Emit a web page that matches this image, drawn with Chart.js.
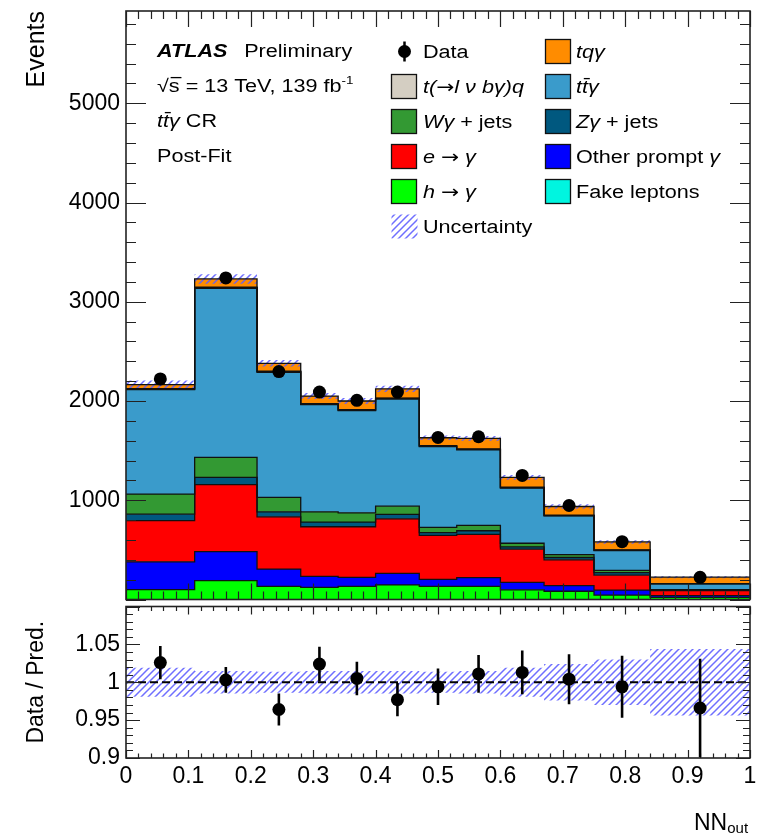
<!DOCTYPE html>
<html lang="en">
<head>
<meta charset="UTF-8">
<title>NN_out - ttγ CR post-fit</title>
<script src="https://cdn.jsdelivr.net/npm/chart.js"></script>
<style>
  body { margin: 0; background: #fff; width: 761px; height: 835px; overflow: hidden; position: relative; }
  .panel { position: absolute; left: 0; width: 761px; }
  #mainBox { top: 0; height: 606px; }
  #ratioBox { top: 600px; height: 235px; }
</style>
</head>
<body>
<div class="panel" id="mainBox"><canvas id="mainChart"></canvas></div>
<div class="panel" id="ratioBox"><canvas id="ratioChart"></canvas></div>
<script>
const FONT = '"Liberation Sans", Arial, Helvetica, sans-serif';
Chart.defaults.font.family = FONT;
Chart.defaults.color = '#000';

// NN_out bin edges (variable width)
const binEdges = [0, 0.11, 0.21, 0.28, 0.34, 0.40, 0.47, 0.53, 0.60, 0.67, 0.75, 0.84, 1.0];

// post-fit yields per bin, listed from the bottom of the stack upwards
const hToGamma    = [100, 190, 133, 123, 133, 147, 133, 133,  97,  83,  45, 22];
const otherPrompt = [280, 293, 174, 110,  90, 116,  70,  88,  76,  57,  50, 18];
const eToGamma    = [415, 674, 526, 500, 510, 550, 444, 436, 334, 260, 150, 50];
const zGammaJets  = [ 65,  73,  50,  47,  47,  44,  26,  36,  23,  23,  26,  5];
const wGammaJets  = [202, 203, 147, 103,  93,  83,  54,  54,  37,  30,  22,  5];
const ttGamma     = [1053, 1702, 1260, 1080, 1030, 1080, 813, 760, 556, 389, 200, 57];
const tLvbGammaQ  = [  6,   8,   6,   6,   6,   6,   5,   5,   5,   4,   4,  2];
const fakeLeptons = [  4,   4,   4,   4,   4,   4,   5,   5,   5,   4,   3,  1];
const tqGamma     = [ 40,  83,  80,  77,  87,  93,  80, 106,  97,  87,  80, 65];

const dataEvents  = [2223, 3240, 2297, 2090, 2007, 2090, 1633, 1640, 1250, 947, 583, 223];

// relative total uncertainty of the prediction
const relUncertainty = [0.019, 0.015, 0.014, 0.015, 0.015, 0.015, 0.014, 0.015, 0.019, 0.024, 0.030, 0.044];

// lower panel
const ratioValues = [1.026, 1.003, 0.964, 1.024, 1.005, 0.977, 0.994, 1.011, 1.013, 1.004, 0.994, 0.966];
const ratioErrors = [0.022, 0.017, 0.021, 0.023, 0.022, 0.022, 0.024, 0.025, 0.029, 0.033, 0.041, 0.065];

// axis tick labels
const eventTicks = [1000, 2000, 3000, 4000, 5000];
const ratioTicks = [0.9, 0.95, 1, 1.05];
const nnTicks = [0, 0.1, 0.2, 0.3, 0.4, 0.5, 0.6, 0.7, 0.8, 0.9, 1];

const seriesNames  = ['h → γ', 'Other prompt γ', 'e → γ', 'Zγ + jets', 'Wγ + jets', 'tt̄γ', 't(→lνbγ)q', 'Fake leptons', 'tqγ'];
const seriesColors = ['#00ff00', '#0000ff', '#ff0000', '#00587f', '#339933', '#3a9bcb', '#d4cec2', '#00f5e0', '#ff8c00'];

const stackSeries = [hToGamma, otherPrompt, eToGamma, zGammaJets, wGammaJets, ttGamma, tLvbGammaQ, fakeLeptons, tqGamma];

// cumulative sums for the stack
const cumulative = [];
let running = new Array(binEdges.length - 1).fill(0);
stackSeries.forEach(s => {
    running = running.map((v, i) => v + s[i]);
    cumulative.push(running);
});
const totals = cumulative[cumulative.length - 1];
const binCenters = binEdges.slice(0, -1).map((e, i) => (e + binEdges[i + 1]) / 2);

// histogram outline: two points per bin
function stepPoints(vals) {
    const pts = [];
    vals.forEach((v, i) => {
        pts.push({x: binEdges[i], y: v});
        pts.push({x: binEdges[i + 1], y: v});
    });
    return pts;
}

function makeHatch() {
    const c = document.createElement('canvas');
    c.width = 7; c.height = 7;
    const g = c.getContext('2d');
    g.strokeStyle = 'rgba(95,95,255,0.9)';
    g.lineWidth = 1.5;
    g.beginPath();
    g.moveTo(0, 7); g.lineTo(7, 0);
    g.moveTo(-3.5, 3.5); g.lineTo(3.5, -3.5);
    g.moveTo(3.5, 10.5); g.lineTo(10.5, 3.5);
    g.stroke();
    return g.createPattern(c, 'repeat');
}
const hatch = makeHatch();

// text with italic / bar / superscript runs, stretched a bit horizontally like the original
const TEXT_SIZE = 18, TEXT_SX = 1.2;
function drawRuns(ctx, x, y, runs) {
    ctx.save();
    ctx.translate(x, y);
    ctx.scale(TEXT_SX, 1);
    ctx.fillStyle = '#000';
    ctx.strokeStyle = '#000';
    ctx.textBaseline = 'alphabetic';
    ctx.textAlign = 'left';
    let cx = 0;
    runs.forEach(r => {
        const fs = r.sup ? TEXT_SIZE * 0.62 : TEXT_SIZE;
        const fam = r.f ? '"' + r.f + '", ' + FONT : FONT;
        ctx.font = (r.i ? 'italic ' : '') + (r.b ? 'bold ' : '') + fs + 'px ' + fam;
        const dy = r.sup ? -TEXT_SIZE * 0.42 : 0;
        ctx.fillText(r.t, cx, dy);
        const w = ctx.measureText(r.t).width;
        if (r.bar) {
            ctx.lineWidth = 1.3;
            ctx.beginPath();
            ctx.moveTo(cx + 1.5, -TEXT_SIZE * 0.8);
            ctx.lineTo(cx + w + 1.5, -TEXT_SIZE * 0.8);
            ctx.stroke();
        }
        cx += w + (r.gap || 0);
    });
    ctx.restore();
}

const ARROW = {t: '→', f: 'DejaVu Sans'};

const labelLines = [
    [{t: 'ATLAS', i: true, b: true, gap: 14}, {t: 'Preliminary'}],
    [{t: '√'}, {t: 's', bar: true}, {t: ' = 13 TeV, 139 fb'}, {t: '-1', sup: true}],
    [{t: 't', i: true}, {t: 't', i: true, bar: true}, {t: 'γ', i: true}, {t: ' CR'}],
    [{t: 'Post-Fit'}]
];

const legendCol1 = [
    {kind: 'data', runs: [{t: 'Data'}]},
    {series: 6, runs: [{t: 't(', i: true}, ARROW, {t: 'l ν bγ)q', i: true}]},
    {series: 4, runs: [{t: 'Wγ', i: true}, {t: ' + jets'}]},
    {series: 2, runs: [{t: 'e ', i: true}, ARROW, {t: ' γ', i: true}]},
    {series: 0, runs: [{t: 'h ', i: true}, ARROW, {t: ' γ', i: true}]},
    {kind: 'unc', runs: [{t: 'Uncertainty'}]}
];
const legendCol2 = [
    {series: 8, runs: [{t: 'tqγ', i: true}]},
    {series: 5, runs: [{t: 't', i: true}, {t: 't', i: true, bar: true}, {t: 'γ', i: true}]},
    {series: 3, runs: [{t: 'Zγ', i: true}, {t: ' + jets'}]},
    {series: 1, runs: [{t: 'Other prompt '}, {t: 'γ', i: true}]},
    {series: 7, runs: [{t: 'Fake leptons'}]}
];

const atlasLegend = {
    id: 'atlasLegend',
    afterDraw(chart) {
        const ctx = chart.ctx;
        labelLines.forEach((runs, i) => drawRuns(ctx, 157, 57 + i * 35, runs));

        function entry(item, boxX, textX, cy) {
            ctx.save();
            if (item.kind === 'data') {
                ctx.fillStyle = '#000';
                ctx.beginPath();
                ctx.arc(boxX + 13, cy, 6.5, 0, Math.PI * 2);
                ctx.fill();
                ctx.lineWidth = 2.5;
                ctx.beginPath();
                ctx.moveTo(boxX + 13, cy - 10); ctx.lineTo(boxX + 13, cy + 10);
                ctx.stroke();
            } else if (item.kind === 'unc') {
                ctx.fillStyle = hatch;
                ctx.fillRect(boxX, cy - 12, 26, 24);
            } else {
                ctx.fillStyle = seriesColors[item.series];
                ctx.fillRect(boxX, cy - 12, 25, 24);
                ctx.strokeStyle = '#111';
                ctx.lineWidth = 1.3;
                ctx.strokeRect(boxX, cy - 12, 25, 24);
            }
            ctx.restore();
            drawRuns(ctx, textX, cy + 6.5, item.runs);
        }
        legendCol1.forEach((it, i) => entry(it, 391.5, 423, 51.5 + i * 35));
        legendCol2.forEach((it, i) => entry(it, 545.5, 576, 51.5 + i * 35));
    }
};

// frame with ATLAS-style inward ticks on all four sides
const atlasFrame = {
    id: 'atlasFrame',
    afterDatasetsDraw(chart, args, o) {
        const {ctx, chartArea: a, scales: {x, y}} = chart;
        ctx.save();
        ctx.strokeStyle = '#222';
        ctx.lineWidth = 1.2;
        ctx.beginPath();
        const nx = Math.floor((x.max - x.min) / o.xMinor + 1e-6);
        for (let k = 0; k <= nx; k++) {
            const v = x.min + k * o.xMinor;
            const major = Math.abs(v / o.xMajor - Math.round(v / o.xMajor)) < 1e-6;
            const len = major ? o.xMajLen : o.xMinLen;
            const px = Math.round(x.getPixelForValue(v)) + 0.5;
            ctx.moveTo(px, a.bottom); ctx.lineTo(px, a.bottom - len);
            ctx.moveTo(px, a.top); ctx.lineTo(px, a.top + len);
        }
        const ny = Math.floor((y.max - y.min) / o.yMinor + 1e-6);
        for (let k = 0; k <= ny; k++) {
            const v = y.min + k * o.yMinor;
            const major = Math.abs(v / o.yMajor - Math.round(v / o.yMajor)) < 1e-6;
            const len = major ? o.yMajLen : o.yMinLen;
            const py = Math.round(y.getPixelForValue(v)) + 0.5;
            ctx.moveTo(a.left, py); ctx.lineTo(a.left + len, py);
            ctx.moveTo(a.right, py); ctx.lineTo(a.right - len, py);
        }
        ctx.stroke();
        ctx.lineWidth = 1.6;
        ctx.strokeRect(a.left, a.top, a.right - a.left, a.bottom - a.top);
        ctx.restore();
    }
};

// vertical error bars for the ratio points
const ratioErrorBars = {
    id: 'ratioErrorBars',
    afterDatasetsDraw(chart) {
        const {ctx, chartArea: a, scales: {x, y}} = chart;
        ctx.save();
        ctx.beginPath();
        ctx.rect(a.left, a.top, a.right - a.left, a.bottom - a.top);
        ctx.clip();
        ctx.strokeStyle = '#000';
        ctx.lineWidth = 2.6;
        ctx.beginPath();
        ratioValues.forEach((r, i) => {
            const px = x.getPixelForValue(binCenters[i]);
            ctx.moveTo(px, y.getPixelForValue(r - ratioErrors[i]));
            ctx.lineTo(px, y.getPixelForValue(r + ratioErrors[i]));
        });
        ctx.stroke();
        ctx.restore();
    }
};

// x-axis title with subscript, drawn under the ratio panel
const nnTitle = {
    id: 'nnTitle',
    afterDraw(chart) {
        const ctx = chart.ctx;
        ctx.save();
        ctx.fillStyle = '#000';
        ctx.textBaseline = 'alphabetic';
        ctx.font = '23px ' + FONT;
        ctx.fillText('NN', 694, 230);
        const w = ctx.measureText('NN').width;
        ctx.font = '15px ' + FONT;
        ctx.fillText('out', 694 + w, 233);
        ctx.restore();
    }
};

const fixedTicks = list => (s => { s.ticks = list.map(v => ({value: v})); });

// ---------- main panel ----------
const mainDatasets = stackSeries.map((s, k) => ({
    type: 'line',
    label: seriesNames[k],
    data: stepPoints(cumulative[k]),
    borderColor: '#111',
    borderWidth: 1.3,
    backgroundColor: seriesColors[k],
    fill: k === 0 ? 'origin' : '-1',
    pointRadius: 0,
    tension: 0,
    order: 1
}));
mainDatasets.push({
    type: 'line',
    label: 'unc-low',
    data: stepPoints(totals.map((t, i) => t * (1 - relUncertainty[i]))),
    borderWidth: 0,
    pointRadius: 0,
    fill: false,
    order: 0
});
mainDatasets.push({
    type: 'line',
    label: 'Uncertainty',
    data: stepPoints(totals.map((t, i) => t * (1 + relUncertainty[i]))),
    borderWidth: 0,
    pointRadius: 0,
    backgroundColor: hatch,
    fill: '-1',
    order: 0
});
mainDatasets.push({
    type: 'scatter',
    label: 'Data',
    data: dataEvents.map((d, i) => ({x: binCenters[i], y: d})),
    pointRadius: 6.5,
    pointBackgroundColor: '#000',
    pointBorderWidth: 0,
    order: -1
});

new Chart(document.getElementById('mainChart'), {
    type: 'line',
    data: {datasets: mainDatasets},
    options: {
        responsive: true,
        maintainAspectRatio: false,
        animation: false,
        layout: {padding: {top: 11, right: 11, bottom: 2, left: 0}},
        plugins: {
            legend: {display: false},
            tooltip: {enabled: false},
            filler: {drawTime: 'beforeDatasetsDraw'},
            atlasFrame: {xMajor: 0.1, xMinor: 0.02, xMajLen: 16, xMinLen: 8, yMajor: 1000, yMinor: 200, yMajLen: 20, yMinLen: 10}
        },
        scales: {
            x: {type: 'linear', min: 0, max: 1, display: false},
            y: {
                type: 'linear', min: 0, max: 5930,
                grid: {display: false, drawTicks: false},
                border: {display: false},
                ticks: {padding: 6, font: {size: 23}, callback: v => String(v)},
                afterBuildTicks: fixedTicks(eventTicks),
                title: {display: true, text: 'Events', align: 'end', font: {size: 25}, padding: {top: 22, bottom: 0}},
                afterFit: s => { s.width = 126; s.paddingTop = 0; s.paddingBottom = 0; }
            }
        }
    },
    plugins: [atlasFrame, atlasLegend]
});

// ---------- ratio panel ----------
new Chart(document.getElementById('ratioChart'), {
    type: 'line',
    data: {
        datasets: [
            {
                type: 'line', label: 'band-low',
                data: stepPoints(relUncertainty.map(u => 1 - u)),
                borderWidth: 0, pointRadius: 0, fill: false, order: 2
            },
            {
                type: 'line', label: 'Uncertainty',
                data: stepPoints(relUncertainty.map(u => 1 + u)),
                borderWidth: 0, pointRadius: 0, backgroundColor: hatch, fill: '-1', order: 2
            },
            {
                type: 'line', label: 'unity',
                data: [{x: 0, y: 1}, {x: 1, y: 1}],
                borderColor: '#000', borderWidth: 2, borderDash: [8, 4],
                pointRadius: 0, fill: false, order: 1
            },
            {
                type: 'scatter', label: 'Data / Pred.',
                data: ratioValues.map((r, i) => ({x: binCenters[i], y: r})),
                pointRadius: 6.5, pointBackgroundColor: '#000', pointBorderWidth: 0, order: 0
            }
        ]
    },
    options: {
        responsive: true,
        maintainAspectRatio: false,
        animation: false,
        layout: {padding: {top: 4, right: 11, bottom: 0, left: 0}},
        plugins: {
            legend: {display: false},
            tooltip: {enabled: false},
            filler: {drawTime: 'beforeDatasetsDraw'},
            atlasFrame: {xMajor: 0.1, xMinor: 0.02, xMajLen: 8, xMinLen: 4.5, yMajor: 0.05, yMinor: 0.01, yMajLen: 14, yMinLen: 7}
        },
        scales: {
            x: {
                type: 'linear', min: 0, max: 1,
                grid: {display: false, drawTicks: false},
                border: {display: false},
                ticks: {autoSkip: false, maxRotation: 0, padding: 5, font: {size: 23}, callback: v => String(v)},
                afterBuildTicks: fixedTicks(nnTicks),
                afterFit: s => { s.height = 77; s.paddingLeft = 0; s.paddingRight = 0; }
            },
            y: {
                type: 'linear', min: 0.9, max: 1.1,
                grid: {display: false, drawTicks: false},
                border: {display: false},
                ticks: {padding: 6, font: {size: 23}, callback: v => String(v)},
                afterBuildTicks: fixedTicks(ratioTicks),
                title: {display: true, text: 'Data / Pred.', font: {size: 23}, padding: {top: 23, bottom: 0}},
                afterFit: s => { s.width = 126; s.paddingTop = 0; s.paddingBottom = 0; }
            }
        }
    },
    plugins: [atlasFrame, ratioErrorBars, nnTitle]
});
</script>
</body>
</html>
